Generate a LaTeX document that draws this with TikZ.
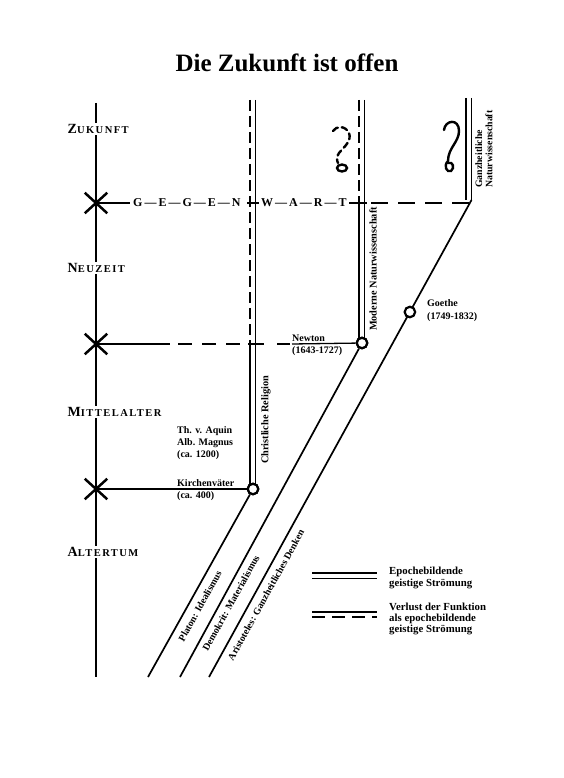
\documentclass[tikz,border=0pt]{standalone}
\usepackage{fontspec}
\setmainfont{Liberation Serif}
\newfontfamily\epochfont[LetterSpace=14]{Liberation Serif Bold}
\usetikzlibrary{shapes.misc}
\begin{document}
\begin{tikzpicture}[x=1pt,y=-1pt,
  axisline/.style={line width=1.9pt},
  strom/.style={line width=1.7pt},
  dbl/.style={line width=1.4pt},
  dsh/.style={line width=1.4pt, dash pattern=on 11pt off 5pt},
  hline/.style={line width=1.3pt},
  hdash/.style={line width=1.3pt, dash pattern=on 14pt off 10pt},
  circ/.style={circle, draw, line width=2.2pt, fill=white, minimum size=10.5pt, inner sep=0pt},
  xmark/.style={draw, cross out, line width=2.5pt, minimum width=20pt, minimum height=18pt, inner sep=0pt},
  epoch/.style={fill=white, inner sep=1.5pt, anchor=west, font=\epochfont},
  lab/.style={font=\fontsize{10}{12}\selectfont\bfseries, inner sep=0pt, align=left},
  rlab/.style={font=\fontsize{10.3}{11}\selectfont\bfseries, inner sep=0pt, rotate=90},
  dlab/.style={font=\fontsize{9.8}{11}\selectfont\bfseries, inner sep=0pt, rotate=61},
  gw/.style={font=\fontsize{12}{14}\selectfont\bfseries, inner sep=0pt, anchor=west},
  leg/.style={font=\fontsize{10.8}{11.2}\selectfont\bfseries, inner sep=0pt, align=left, anchor=west},
  qmark/.style={line width=2.4pt, line cap=round},
]
\useasboundingbox (0,0) rectangle (564,778);

% title
\node[font=\fontsize{25}{30}\selectfont\bfseries] (title) at (287,63) {Die Zukunft ist offen};

% axis
\coordinate (axtop) at (96,103);
\coordinate (axbot) at (96,677);
\draw[axisline] (axtop) -- (axbot);

% epoch labels
\node[epoch] (zuk) at (66,129) {\fontsize{14}{14}\selectfont Z\fontsize{10.5}{14}\selectfont UKUNFT};
\node[epoch] (neu) at (66,268) {\fontsize{14}{14}\selectfont N\fontsize{10.5}{14}\selectfont EUZEIT};
\node[epoch] (mit) at (66,412) {\fontsize{14}{14}\selectfont M\fontsize{10.5}{14}\selectfont ITTELALTER};
\node[epoch] (alt) at (66,552) {\fontsize{14}{14}\selectfont A\fontsize{10.5}{14}\selectfont LTERTUM};

% coordinates of columns
\coordinate (c1t) at (250,100);   \coordinate (c2t) at (255.5,100);
\coordinate (c1m) at (250,344);
\coordinate (c1b) at (250,484);   \coordinate (c2b) at (255.5,484);
\coordinate (m1t) at (359,100);   \coordinate (m2t) at (364.5,100);
\coordinate (m1m) at (359,203);
\coordinate (m1b) at (359,339);   \coordinate (m2b) at (364.5,339);
\coordinate (g1t) at (466,98);    \coordinate (g2t) at (471.5,98);
\coordinate (g1b) at (466,200);   \coordinate (g2b) at (471.5,200);

% Christliche Religion
\draw[dsh] (c1t) -- (c1m);
\draw[dbl] (c1m) -- (c1b);
\draw[dbl] (c2t) -- (c2b);
% Moderne Naturwissenschaft
\draw[dsh] (m1t) -- (m1m);
\draw[dbl] (m1m) -- (m1b);
\draw[dbl] (m2t) -- (m2b);
% Ganzheitliche Naturwissenschaft
\draw[dbl] (g1t) -- (g1b);
\draw[dbl] (g2t) -- (g2b);

% diagonals
\coordinate (pend) at (148,677);
\coordinate (dend) at (180,677);
\coordinate (aend) at (209,677);
\node[circ] (kv) at (253,489) {};
\node[circ] (nw) at (362,343) {};
\draw[strom] (g2b) -- (aend);
\draw[strom] (kv) -- (pend);
\draw[strom] (nw) -- (dend);
\node[circ] (go) at (409.9,312) {};

% X marks
\node[xmark] (xg) at (96,203) {};
\node[xmark] (xn) at (96,344) {};
\node[xmark] (xk) at (96,489) {};

% Gegenwart line
\coordinate (g0) at (130,203);
\coordinate (gt1a) at (247,203); \coordinate (gt1b) at (259,203);
\coordinate (gt2a) at (349,203); \coordinate (gt2b) at (367,203);
\coordinate (gd1) at (371,203);  \coordinate (gd2) at (470,203);
\draw[hline] (xg.center) -- (g0);
\node[gw] (gwa) at (133,203) {G\,—\,E\,—\,G\,—\,E\,—\,N};
\draw[hline] (gt1a) -- (gt1b);
\node[gw] (gwb) at (261,203) {W\,—\,A\,—\,R\,—\,T};
\draw[hline] (gt2a) -- (gt2b);
\draw[hline, dash pattern=on 17pt off 10pt] (gd1) -- (gd2);

% Newton line
\coordinate (n0) at (170,344);
\coordinate (n1) at (178,344); \coordinate (n2) at (244,344);
\coordinate (nt1) at (248,344); \coordinate (nt2) at (264,344);
\coordinate (n3) at (277,344); \coordinate (n4) at (290,344);
\coordinate (n5) at (292,344);
\draw[hline] (xn.center) -- (n0);
\draw[hdash] (n1) -- (n2);
\draw[hline] (nt1) -- (nt2);
\draw[hline] (n3) -- (n4);
\draw[hline] (n5) -- (nw);

% Kirchenvaeter line
\draw[hline] (xk.center) -- (kv);

% redraw circles on top
\node[circ] (kv2) at (kv) {};
\node[circ] (nw2) at (nw) {};

% labels
\node[lab, anchor=north west] (aquin) at (177,426) {Th. v. Aquin\\Alb. Magnus\\(ca. 1200)};
\node[lab, anchor=south west] (kirch) at (177,487) {Kirchenväter};
\node[lab, anchor=north west] (k400) at (177,491) {(ca. 400)};
\node[lab, anchor=south west] (newt) at (292,342) {Newton};
\node[lab, anchor=north west] (newtd) at (292,346) {(1643-1727)};
\node[lab, anchor=west] (goe) at (427,303) {Goethe};
\node[lab, anchor=west] (goed) at (427,317) {(1749-1832)};

% column labels
\node[rlab] (chr) at (266,420) {Christliche Religion};
\node[rlab] (mod) at (373,269) {Moderne Naturwissenschaft};
\node[rlab, font=\fontsize{9.8}{10.2}\selectfont\bfseries, align=left, anchor=west] (ganz) at (484,188) {Ganzheitliche\\Naturwissenschaft};

% diagonal labels
\node[dlab] (plat) at (200,606) {Platon: Idealismus};
\node[dlab] (demo) at (231,603) {Demokrit: Materialismus};
\node[dlab] (aris) at (266,595) {Aristoteles: Ganzheitliches Denken};

% question marks
\draw[qmark] (444,130) .. controls (445,120) and (459,118) .. (459,131)
  .. controls (459,142) and (448,148) .. (448,161)
  .. controls (443,166) and (447,173) .. (451,171)
  .. controls (455,168) and (453,161) .. (448,163);
\draw[qmark, dash pattern=on 6pt off 4pt] (333,131) .. controls (336,126) and (345,125) .. (349,133)
  .. controls (352,141) and (344,147) .. (339,153)
  .. controls (336,157) and (337,161) .. (338,163);
\draw[qmark] (342,168) ellipse (5pt and 3.5pt);

% legend
\coordinate (la1) at (312,573); \coordinate (la2) at (377,573);
\coordinate (lb1) at (312,578.5); \coordinate (lb2) at (377,578.5);
\coordinate (lc1) at (312,612); \coordinate (lc2) at (377,612);
\coordinate (ld1) at (312,617); \coordinate (ld2) at (377,617);
\draw[dbl] (la1) -- (la2);
\draw[dbl] (lb1) -- (lb2);
\draw[dbl] (lc1) -- (lc2);
\draw[dbl, dash pattern=on 13pt off 7pt] (ld1) -- (ld2);
\node[leg] (leg1) at (389,578) {Epochebildende\\geistige Strömung};
\node[leg] (leg2) at (389,619) {Verlust der Funktion\\als epochebildende\\geistige Strömung};
\end{tikzpicture}
\end{document}
